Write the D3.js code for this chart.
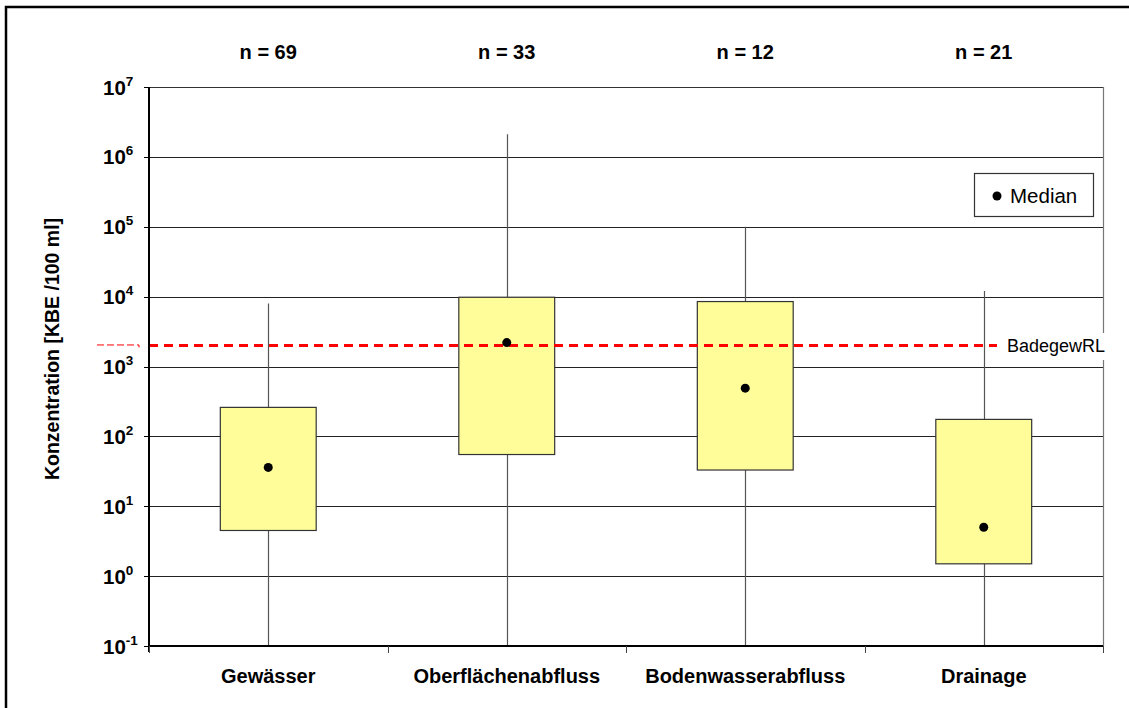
<!DOCTYPE html>
<html>
<head>
<meta charset="utf-8">
<script src="https://cdn.jsdelivr.net/npm/d3@7"></script>
<style>
  html, body { margin: 0; padding: 0; background: #fff; }
  svg { display: block; font-family: "Liberation Sans", Arial, sans-serif; }
</style>
</head>
<body>
<svg id="chart" width="1129" height="708"></svg>
<script>
// Sampling groups and sample counts
const categories = ["Gewässer", "Oberflächenabfluss", "Bodenwasserabfluss", "Drainage"];
const counts = [69, 33, 12, 21];

// Box statistics in KBE / 100 ml
const whiskerMin = [0.1, 0.1, 0.1, 0.1];
const q1 = [4.5, 55, 33, 1.5];
const median = [36, 2200, 490, 5];
const q3 = [260, 9800, 8500, 175];
const whiskerMax = [8000, 2100000, 100000, 12000];

// Bathing water directive limit
const limitValue = 2000;
const limitLabel = "BadegewRL";

// Decade exponents for the log axis
const yExponents = [-1, 0, 1, 2, 3, 4, 5, 6, 7];

const svg = d3.select("#chart");
const W = 1129, H = 708;
const plot = { left: 149, right: 1103, top: 87, bottom: 646 };

const x = d3.scaleBand().domain(categories).range([plot.left, plot.right]).padding(0);
const y = d3.scaleLog().domain([0.1, 1e7]).range([plot.bottom, plot.top]);
const boxW = x.bandwidth() * 0.402;

// Outer frame
svg.append("rect")
  .attr("x", 6).attr("y", 7).attr("width", W + 10).attr("height", H + 10)
  .attr("fill", "#fff").attr("stroke", "#000").attr("stroke-width", 2.5);

// Horizontal gridlines at each decade
const gridVals = yExponents.map(e => Math.pow(10, e)).filter(v => v > 0.1 && v < 1e7);
svg.append("g")
  .selectAll("line").data(gridVals).join("line")
  .attr("x1", plot.left).attr("x2", plot.right)
  .attr("y1", d => Math.round(y(d)) + 0.5).attr("y2", d => Math.round(y(d)) + 0.5)
  .attr("stroke", "#222").attr("stroke-width", 1);

// Plot frame: top and right
svg.append("line")
  .attr("x1", plot.left).attr("x2", plot.right)
  .attr("y1", plot.top + 0.5).attr("y2", plot.top + 0.5)
  .attr("stroke", "#333").attr("stroke-width", 1);
svg.append("line")
  .attr("x1", plot.right + 0.5).attr("x2", plot.right + 0.5)
  .attr("y1", plot.top).attr("y2", plot.bottom)
  .attr("stroke", "#777").attr("stroke-width", 1.2);

const rows = categories.map((c, i) => ({
  cat: c, n: counts[i], lo: whiskerMin[i], q1: q1[i], med: median[i], q3: q3[i], hi: whiskerMax[i]
}));

// Whiskers
svg.append("g")
  .selectAll("line").data(rows).join("line")
  .attr("x1", d => Math.round(x(d.cat) + x.bandwidth() / 2) + 0.5)
  .attr("x2", d => Math.round(x(d.cat) + x.bandwidth() / 2) + 0.5)
  .attr("y1", d => y(d.hi)).attr("y2", d => y(d.lo))
  .attr("stroke", "#555").attr("stroke-width", 1.2);

// Boxes
svg.append("g")
  .selectAll("rect").data(rows).join("rect")
  .attr("x", d => x(d.cat) + x.bandwidth() / 2 - boxW / 2)
  .attr("width", boxW)
  .attr("y", d => y(d.q3))
  .attr("height", d => y(d.q1) - y(d.q3))
  .attr("fill", "#FFFD99").attr("stroke", "#333").attr("stroke-width", 1.2);

// Limit line
const yl = y(limitValue);
svg.append("line")
  .attr("x1", plot.left).attr("x2", 997)
  .attr("y1", yl).attr("y2", yl)
  .attr("stroke", "#FF0000").attr("stroke-width", 3)
  .attr("stroke-dasharray", "9,6");
svg.append("path")
  .attr("d", `M97,${yl - 0.5}H139V${yl + 2}`)
  .attr("fill", "none").attr("stroke", "#FF0000").attr("stroke-width", 1)
  .attr("stroke-dasharray", "7,3");

// Limit label with white background
svg.append("rect")
  .attr("x", 1003).attr("y", 333).attr("width", 106).attr("height", 27)
  .attr("fill", "#fff");
svg.append("text")
  .attr("x", 1007).attr("y", yl)
  .attr("dy", "0.35em")
  .attr("font-size", 18).attr("fill", "#000")
  .text(limitLabel);

// Medians
svg.append("g")
  .selectAll("circle").data(rows).join("circle")
  .attr("cx", d => x(d.cat) + x.bandwidth() / 2)
  .attr("cy", d => y(d.med))
  .attr("r", 4.5).attr("fill", "#000");

// Left axis with outward ticks
svg.append("g")
  .selectAll("line").data(yExponents).join("line")
  .attr("x1", plot.left - 5).attr("x2", plot.left)
  .attr("y1", e => Math.round(y(Math.pow(10, e))) + 0.5)
  .attr("y2", e => Math.round(y(Math.pow(10, e))) + 0.5)
  .attr("stroke", "#000").attr("stroke-width", 1);
svg.append("line")
  .attr("x1", plot.left).attr("x2", plot.left)
  .attr("y1", plot.top).attr("y2", plot.bottom + 6)
  .attr("stroke", "#000").attr("stroke-width", 2);

// Tick labels as powers of ten
const tl = svg.append("g").selectAll("text").data(yExponents).join("text")
  .attr("x", 103)
  .attr("y", e => y(Math.pow(10, e)) + 7.5)
  .attr("font-size", 20.5).attr("font-weight", "bold").attr("fill", "#000");
tl.append("tspan").text("10");
tl.append("tspan").attr("dy", -9).attr("font-size", 13.5).text(e => String(e));

// Bottom axis and category boundary ticks
svg.append("line")
  .attr("x1", plot.left - 1).attr("x2", plot.right)
  .attr("y1", plot.bottom).attr("y2", plot.bottom)
  .attr("stroke", "#000").attr("stroke-width", 2);
const bounds = categories.map(c => x(c)).concat([plot.right]);
svg.append("g")
  .selectAll("line").data(bounds).join("line")
  .attr("x1", d => Math.round(d) + 0.5).attr("x2", d => Math.round(d) + 0.5)
  .attr("y1", plot.bottom).attr("y2", plot.bottom + 7)
  .attr("stroke", "#444").attr("stroke-width", 1);

// Category labels
svg.append("g")
  .selectAll("text").data(rows).join("text")
  .attr("x", d => x(d.cat) + x.bandwidth() / 2)
  .attr("y", 683)
  .attr("text-anchor", "middle")
  .attr("font-size", 20).attr("font-weight", "bold")
  .text(d => d.cat);

// Sample counts above each group
svg.append("g")
  .selectAll("text").data(rows).join("text")
  .attr("x", d => x(d.cat) + x.bandwidth() / 2)
  .attr("y", 59)
  .attr("text-anchor", "middle")
  .attr("font-size", 20).attr("font-weight", "bold")
  .text(d => `n = ${d.n}`);

// Y axis title
svg.append("text")
  .attr("transform", "translate(52,349) rotate(-90)")
  .attr("text-anchor", "middle")
  .attr("dy", "0.35em")
  .attr("font-size", 19.5).attr("font-weight", "bold")
  .text("Konzentration [KBE /100 ml]");

// Legend
const lg = svg.append("g");
lg.append("rect")
  .attr("x", 974.5).attr("y", 173.5).attr("width", 119).attr("height", 43)
  .attr("fill", "#fff").attr("stroke", "#333").attr("stroke-width", 1.2);
lg.append("circle").attr("cx", 997).attr("cy", 196).attr("r", 4.5).attr("fill", "#000");
lg.append("text")
  .attr("x", 1010).attr("y", 196).attr("dy", "0.36em")
  .attr("font-size", 20.5)
  .text("Median");
</script>
</body>
</html>
